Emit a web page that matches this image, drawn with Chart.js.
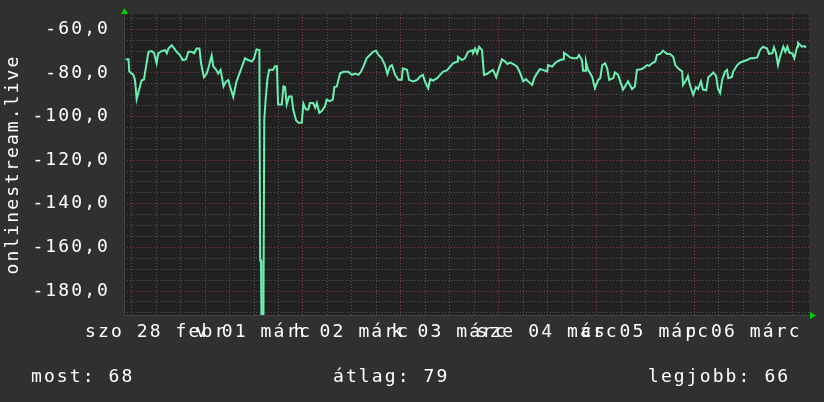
<!DOCTYPE html>
<html><head><meta charset="utf-8">
<script src="https://cdn.jsdelivr.net/npm/chart.js@4/dist/chart.umd.min.js"></script>
<style>html,body{margin:0;padding:0;background:#303030;overflow:hidden}</style>
</head><body><canvas id="c" width="824" height="402"></canvas>
<script>
// hours since 28 Feb 00:00
const hours = [4.5,5.2,5.4,6.4,6.8,7.2,7.9,8.4,9.0,9.4,10.1,10.9,11.5,12.1,12.5,13.3,14.2,14.6,15.0,15.8,16.4,17.0,17.8,18.5,19.3,19.9,20.7,21.3,21.9,22.6,23.0,23.7,24.4,25.0,25.6,26.0,26.7,27.2,27.8,28.5,29.1,29.7,30.1,30.9,31.6,32.4,33.0,33.8,34.6,35.4,36.0,36.6,37.3,
37.4,37.5,37.7,37.8,38.3,38.5,38.9,39.3,39.7,
40.7,41.1,41.6,41.9,42.8,43.2,43.6,44.0,44.6,45.2,45.6,46.3,46.9,47.7,48.1,48.7,49.3,49.7,50.5,51.0,51.4,52.0,52.6,53.4,53.8,54.6,55.3,55.7,56.3,56.7,57.1,57.9,59.1,60.0,60.8,61.6,62.2,62.8,63.6,64.4,65.2,65.9,66.5,67.3,68.1,68.7,69.3,69.8,70.6,71.4,72.2,
72.5,73.5,74.0,75.0,76.0,76.7,77.4,77.9,78.7,79.2,79.9,80.9,81.6,82.4,83.3,84.1,84.8,85.8,86.0,87.0,87.7,88.5,89.5,89.7,90.2,90.7,91.2,91.9,92.4,93.1,93.9,94.6,95.4,95.8,96.8,97.6,98.1,98.8,99.5,100.5,101.2,102.0,102.7,103.2,104.2,104.7,105.4,106.1,106.9,107.9,108.1,109.1,109.8,110.3,111.1,111.8,112.0,112.8,113.5,114.2,115.2,115.7,116.4,116.7,117.2,117.4,117.9,118.9,119.6,120.4,120.9,121.4,122.1,122.6,123.1,124.1,124.5,125.3,125.8,126.5,127.2,127.7,128.7,129.4,129.9,130.9,131.4,132.4,132.9,133.6,134.4,134.8,135.6,136.3,137.3,138.0,138.8,139.3,140.0,141.0,141.2,142.0,142.4,142.9,143.7,144.4,144.9,145.6,146.1,146.9,147.4,148.1,148.6,149.3,149.8,150.3,150.8,151.5,152.0,152.3,153.2,153.5,154.5,155.2,155.9,156.9,157.7,158.4,159.4,160.1,160.8,161.8,162.3,163.1,163.5,164.0,164.5,165.0,165.8,166.3,166.8,167.3,168.0,168.5,169.2,169.4,170.4,170.9,171.4];
const signal = [-73.8,-73.8,-79.4,-80.9,-83.2,-92,-87,-83.5,-83,-78.3,-70.3,-70,-71,-75.6,-71,-70,-69.6,-71,-68.8,-67.3,-68.8,-70.3,-71.8,-74.1,-73.8,-70.3,-70.3,-71,-68.8,-68.8,-75.6,-82,-80.3,-76.4,-72,-77,-78.6,-80.3,-78.6,-86.2,-84,-83.3,-86.2,-91,-84.5,-80.3,-77.3,-73.3,-74.1,-74.8,-73.3,-69.2,-69.5,
-69.5,-166,-166,-191,-191,-101.5,-90.8,-82.4,-78.6,
-78.6,-77,-77,-94.5,-94.5,-86.2,-86.5,-94.5,-90.8,-90.8,-96.8,-101.7,-102.9,-102.9,-94.1,-96.8,-96.8,-93.8,-93.8,-96,-93.8,-98.3,-97.5,-95.3,-92.3,-93,-92.3,-86.5,-86.2,-83.2,-80.2,-79.5,-79.5,-80.9,-80.3,-80.9,-79.5,-77.1,-73.3,-71.8,-70.3,-69.8,-71.8,-73.3,-76.4,-80.5,-77.1,-76.4,-80.9,-83.2,-83.2,
-77.9,-78.6,-83.2,-83.9,-83.2,-81.7,-80.9,-83.9,-87,-82.9,-83.5,-82.4,-80.9,-79.4,-78.9,-77.1,-75.6,-74.8,-72.6,-74.1,-73.3,-70.3,-69.6,-71,-68.8,-71,-68,-69.6,-80.9,-80.5,-79.4,-78.6,-82,-79.4,-73.8,-74.8,-75.9,-75.3,-75.9,-77.1,-79.8,-83.9,-82.9,-83.9,-85.5,-82.4,-80.2,-78.3,-78.6,-79.4,-76.4,-77.1,-75.6,-74.8,-74.1,-73.8,-70.8,-71.8,-72.9,-73.3,-73.3,-71.8,-74.1,-79,-79,-74.8,-78.6,-81.7,-87,-83.2,-82.4,-76.4,-75.6,-77.9,-83.2,-82.4,-79.8,-80.9,-83.9,-87.7,-85.5,-83.9,-87.4,-86.2,-78.6,-78.3,-77.9,-76.4,-76.8,-75.6,-74.8,-71.8,-71.3,-69.8,-71.3,-71.3,-72.6,-76.4,-77.9,-79.4,-85.5,-83.2,-81.4,-85.5,-90,-86.5,-87.4,-83.9,-87.7,-88,-82,-80.9,-79.8,-81.4,-87.4,-89.2,-83.2,-79.4,-78.6,-82.4,-81.9,-79.4,-76.4,-75.3,-74.8,-74.1,-73.3,-73.3,-72.9,-69.5,-68,-68.8,-71.3,-71,-68.3,-71,-76.4,-72.6,-68,-70.3,-68,-70.8,-71,-73.3,-68,-66.2,-68,-67.7,-68.3];
const dayLabels = ["szo 28 febr","v 01 márc","h 02 márc","k 03 márc","sze 04 márc","cs 05 márc","p 06 márc"];
const legendTexts = ["most: 68","átlag: 79","legjobb: 66"];
const yTitle = "onlinestream.live";

const FONT = "'DejaVu Sans Mono', monospace";
const FSIZE = 18;
const RED = '#8a3a3a';
const GRAY = '#555555';
const TXT = '#ffffff';
const SPACING = '2.1px';

const spacingPlugin = {
  id: 'spacing',
  beforeLayout(chart){ chart.ctx.letterSpacing = SPACING; },
  beforeDraw(chart){
    const ctx = chart.ctx, a = chart.chartArea;
    ctx.letterSpacing = SPACING;
    ctx.save();
    ctx.fillStyle = '#303030';
    ctx.fillRect(0,0,chart.width,chart.height);
    ctx.fillStyle = '#212121';
    ctx.fillRect(a.left, a.top, a.right-a.left, a.bottom-a.top);
    ctx.restore();
  },
  afterDraw(chart){
    const ctx = chart.ctx, a = chart.chartArea;
    ctx.save();
    ctx.strokeStyle = '#454545';
    ctx.lineWidth = 1;
    ctx.beginPath();
    ctx.moveTo(a.left+0.5, a.top-4); ctx.lineTo(a.left+0.5, a.bottom+0.5);
    ctx.lineTo(a.right+2, a.bottom+0.5);
    ctx.stroke();
    ctx.fillStyle = '#00d000';
    ctx.beginPath();
    ctx.moveTo(a.left+0.5, a.top-6); ctx.lineTo(a.left-3, a.top); ctx.lineTo(a.left+4, a.top); ctx.closePath(); ctx.fill();
    ctx.beginPath();
    ctx.moveTo(a.right+7, a.bottom+0.5); ctx.lineTo(a.right+1, a.bottom-3); ctx.lineTo(a.right+1, a.bottom+4); ctx.closePath(); ctx.fill();
    ctx.fillStyle = TXT;
    ctx.font = FSIZE + "px " + FONT;
    ctx.letterSpacing = SPACING;
    ctx.textBaseline = 'alphabetic';
    ctx.textAlign = 'left';
    const xs = [31, 333, 648];
    legendTexts.forEach((t,i)=>ctx.fillText(t, xs[i], 382));
    ctx.restore();
  }
};

new Chart(document.getElementById('c'), {
  type: 'line',
  data: {
    datasets: [{
      data: hours.map((h,i)=>({x:h, y:signal[i]})),
      borderColor: '#6cf0b2',
      borderWidth: 2,
      pointRadius: 0,
      tension: 0,
      fill: false
    }]
  },
  options: {
    responsive: false,
    animation: false,
    devicePixelRatio: 1,
    layout: { padding: { left: 0, right: 15, top: 14, bottom: 0 } },
    plugins: { legend: { display: false }, tooltip: { enabled: false } },
    scales: {
      x: {
        type: 'linear', min: 4.1, max: 172.1,
        afterBuildTicks: s => { const t=[]; for (let v=6; v<=172; v+=6) t.push({value:v}); s.ticks=t; },
        afterFit: s => { s.height = 87; s.paddingLeft = 0; s.paddingRight = 0; },
        grid: { color: c => (c.tick && c.tick.value % 24 === 0) ? RED : GRAY, lineWidth: 1, drawTicks: false },
        border: { display: false, dash: [1,2] },
        ticks: { autoSkip: false, maxRotation: 0, minRotation: 0, padding: 7, color: TXT,
          font: { family: FONT, size: FSIZE },
          callback: v => (v % 24 === 12) ? dayLabels[(v-12)/24] : '' }
      },
      y: {
        min: -191, max: -53,
        afterBuildTicks: s => { const t=[]; for (let v=-190; v<=-55; v+=5) t.push({value:v}); s.ticks=t; },
        afterFit: s => { s.width = 124; s.paddingTop = 0; s.paddingBottom = 0; },
        grid: { color: c => (c.tick && c.tick.value % 20 === 0) ? RED : GRAY, lineWidth: 1, drawTicks: false },
        border: { display: false, dash: [1,2] },
        ticks: { autoSkip: false, padding: 14, color: TXT, font: { family: FONT, size: FSIZE },
          callback: v => (v % 20 === 0) ? v.toFixed(1).replace('.', ',') : '' },
        title: { display: true, text: yTitle, color: TXT, font: { family: FONT, size: FSIZE }, padding: { top: 3, bottom: 0 } }
      }
    }
  },
  plugins: [spacingPlugin]
});
</script>
</body></html>
